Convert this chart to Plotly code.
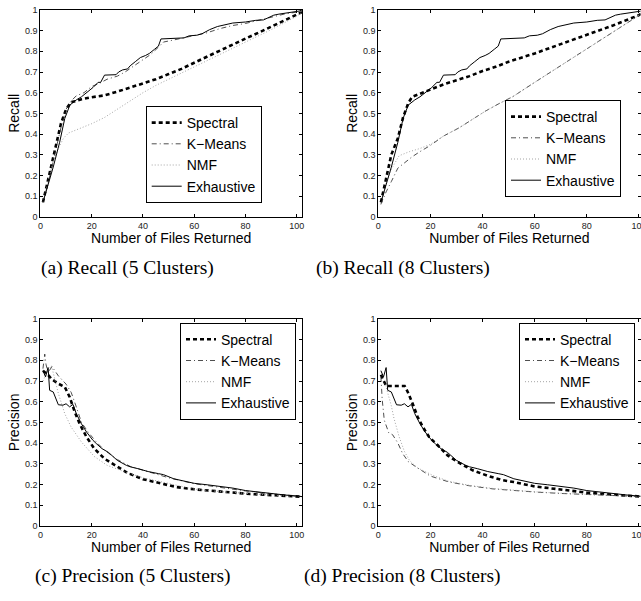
import plotly.graph_objects as go

# ---------------- data ----------------
series_names = ["Spectral", "K\u2212Means", "NMF", "Exhaustive"]
captions = ["(a) Recall (5 Clusters)", "(b) Recall (8 Clusters)",
            "(c) Precision (5 Clusters)", "(d) Precision (8 Clusters)"]
x_ticks = [0, 20, 40, 60, 80, 100]
y_ticks = [0, 0.1, 0.2, 0.3, 0.4, 0.5, 0.6, 0.7, 0.8, 0.9, 1]
y_ticklabels = ["0", "0.1", "0.2", "0.3", "0.4", "0.5", "0.6", "0.7", "0.8", "0.9", "1"]

# Recall, exhaustive (same for 5 and 8 clusters)
rec_exh_x = [1, 3, 5, 7.5, 9.5, 11.5, 14, 16, 18, 20.5, 22.5, 23.5, 25, 29.5, 30.5, 32, 34, 35, 37, 39, 41,
             42.5, 44.5, 46, 47, 52, 56, 58, 61, 63, 66, 69, 72, 75, 80, 84, 87, 89, 91, 93, 96, 99, 101, 102]
rec_exh_y = [0.07, 0.15, 0.24, 0.36, 0.475, 0.54, 0.565, 0.58, 0.60, 0.625, 0.65, 0.65, 0.685, 0.687, 0.70,
             0.71, 0.715, 0.73, 0.75, 0.77, 0.78, 0.79, 0.81, 0.825, 0.86, 0.862, 0.865, 0.875, 0.878, 0.885,
             0.905, 0.92, 0.93, 0.937, 0.942, 0.95, 0.952, 0.965, 0.975, 0.98, 0.985, 0.99, 0.995, 1.0]

# Recall, 5 clusters
rec5_spec_x = [1, 3, 5, 8, 10, 12, 14, 16, 20, 25, 30, 35, 40, 45, 50, 55, 60, 65, 70, 75, 80, 85, 90, 95, 100, 102]
rec5_spec_y = [0.07, 0.18, 0.30, 0.45, 0.52, 0.555, 0.56, 0.568, 0.578, 0.587, 0.605, 0.625, 0.645, 0.665, 0.69,
               0.715, 0.745, 0.775, 0.805, 0.835, 0.862, 0.89, 0.918, 0.948, 0.978, 0.99]
rec5_km_x = [1, 3, 5, 8, 10, 12, 14, 17, 20, 23, 26, 30, 33, 36, 40, 43, 46, 48, 52, 56, 60, 65, 70, 75, 80, 85,
             90, 95, 100, 102]
rec5_km_y = [0.07, 0.16, 0.27, 0.43, 0.52, 0.56, 0.585, 0.60, 0.63, 0.645, 0.665, 0.68, 0.70, 0.725, 0.76, 0.785,
             0.82, 0.845, 0.855, 0.865, 0.875, 0.89, 0.91, 0.925, 0.935, 0.95, 0.965, 0.98, 0.99, 1.0]
rec5_nmf_x = [1, 3, 5, 7, 9, 11, 15, 20, 25, 30, 35, 40, 45, 50, 55, 60, 70, 80, 90, 100, 102]
rec5_nmf_y = [0.07, 0.17, 0.27, 0.33, 0.38, 0.405, 0.425, 0.45, 0.48, 0.52, 0.56, 0.60, 0.635, 0.665, 0.695,
              0.725, 0.785, 0.845, 0.905, 0.97, 0.99]

# Recall, 8 clusters
rec8_spec_x = [1, 2.5, 5, 7.5, 9.5, 11.5, 13, 15, 18, 20, 25, 30, 35, 40, 45, 50, 55, 60, 70, 80, 90, 100, 102]
rec8_spec_y = [0.07, 0.16, 0.30, 0.38, 0.48, 0.55, 0.58, 0.59, 0.605, 0.615, 0.64, 0.66, 0.68, 0.705, 0.725,
               0.75, 0.77, 0.79, 0.835, 0.88, 0.925, 0.975, 0.99]
rec8_km_x = [1, 3, 5, 7.5, 10, 13, 16, 20, 25, 31, 36, 41, 46, 51.5, 60, 70, 80, 90, 100, 102]
rec8_km_y = [0.06, 0.12, 0.17, 0.235, 0.26, 0.29, 0.315, 0.345, 0.39, 0.43, 0.47, 0.51, 0.545, 0.58, 0.65, 0.73,
             0.81, 0.89, 0.97, 0.99]
rec8_nmf_x = [1, 3, 5, 8, 12, 16, 20, 25, 31, 36, 41, 46, 51.5, 60, 70, 80, 90, 100, 102]
rec8_nmf_y = [0.06, 0.16, 0.23, 0.295, 0.315, 0.33, 0.35, 0.39, 0.43, 0.47, 0.51, 0.545, 0.58, 0.65, 0.73, 0.81,
              0.89, 0.97, 0.99]

# Precision, exhaustive (same for 5 and 8 clusters)
pre_exh_x = [1, 2, 3, 3.6, 5, 6, 7, 8.8, 10, 11.4, 12.7, 14, 16, 18, 20.5, 22, 24, 26.5, 28, 30, 33.5, 35, 38,
             42, 46, 48, 52, 56, 60, 65, 70, 75, 80, 85, 90, 95, 100, 102]
pre_exh_y = [0.75, 0.72, 0.765, 0.655, 0.647, 0.62, 0.585, 0.583, 0.59, 0.575, 0.587, 0.542, 0.493, 0.453, 0.413,
             0.395, 0.373, 0.355, 0.34, 0.316, 0.292, 0.285, 0.276, 0.262, 0.252, 0.247, 0.227, 0.215, 0.205,
             0.198, 0.19, 0.182, 0.17, 0.162, 0.155, 0.149, 0.143, 0.141]

# Precision, 5 clusters
pre5_spec_x = [1, 2, 3, 4.3, 7, 9.5, 11.4, 13.4, 15.3, 18, 21, 25, 29, 34, 40, 47, 53, 60, 70, 80, 90, 100, 102]
pre5_spec_y = [0.75, 0.74, 0.73, 0.71, 0.687, 0.671, 0.623, 0.55, 0.493, 0.429, 0.373, 0.324, 0.292, 0.255,
               0.225, 0.203, 0.187, 0.176, 0.165, 0.155, 0.148, 0.142, 0.14]
pre5_km_x = [1, 1.7, 2.2, 3, 4.5, 7, 10, 12, 14, 16, 18.6, 21.8, 25, 30, 35, 40, 50, 60, 70, 80, 90, 100, 102]
pre5_km_y = [0.76, 0.83, 0.78, 0.74, 0.77, 0.725, 0.685, 0.645, 0.575, 0.5, 0.453, 0.405, 0.365, 0.32, 0.287,
             0.268, 0.232, 0.203, 0.185, 0.168, 0.155, 0.143, 0.141]
pre5_nmf_x = [1, 2.5, 4.3, 7, 9.5, 12, 16, 21, 26, 33, 40, 50, 60, 70, 80, 90, 100, 102]
pre5_nmf_y = [0.70, 0.74, 0.775, 0.64, 0.542, 0.477, 0.405, 0.335, 0.292, 0.26, 0.232, 0.203, 0.177, 0.165,
              0.155, 0.148, 0.142, 0.14]

# Precision, 8 clusters
pre8_spec_x = [1, 2, 3, 10.1, 11.3, 13.2, 15.1, 17.1, 19.5, 22.8, 26.6, 30.5, 36.2, 42.5, 47.7, 52, 60, 70, 80,
               90, 100, 102]
pre8_spec_y = [0.73, 0.70, 0.676, 0.676, 0.647, 0.59, 0.526, 0.477, 0.429, 0.389, 0.34, 0.308, 0.268, 0.239,
               0.22, 0.211, 0.19, 0.175, 0.16, 0.15, 0.142, 0.14]
pre8_km_x = [1, 1.5, 2.3, 4, 5.5, 7.5, 9.3, 11.5, 15, 20, 27, 35, 44, 52, 60, 70, 80, 90, 100, 102]
pre8_km_y = [0.72, 0.61, 0.51, 0.45, 0.44, 0.40, 0.35, 0.31, 0.28, 0.24, 0.212, 0.193, 0.178, 0.17, 0.163, 0.156,
             0.15, 0.145, 0.141, 0.14]
pre8_nmf_x = [1, 2, 3, 4, 5, 6, 8, 10, 12, 15, 18, 21, 27, 35, 44, 52, 60, 70, 80, 90, 100, 102]
pre8_nmf_y = [0.70, 0.69, 0.67, 0.63, 0.58, 0.52, 0.43, 0.36, 0.315, 0.28, 0.26, 0.243, 0.215, 0.195, 0.18, 0.171,
              0.164, 0.157, 0.151, 0.146, 0.141, 0.14]

# ---------------- styling ----------------
W, H = 641, 601
styles = [
    dict(color="black", width=2.6, dash="4px,3px"),          # Spectral
    dict(color="#222222", width=0.8, dash="5px,3px,1px,3px"),  # K-Means
    dict(color="#9a9a9a", width=0.9, dash="1px,2px"),        # NMF
    dict(color="black", width=1.0, dash="solid"),            # Exhaustive
]

panels = [
    dict(data=[(rec5_spec_x, rec5_spec_y), (rec5_km_x, rec5_km_y), (rec5_nmf_x, rec5_nmf_y), (rec_exh_x, rec_exh_y)],
         px=(40.4, 302), py=(10, 216.7), xr=[0, 102], ytitle="Recall",
         legend=dict(x=145.7, y=106, xanchor="left", gap=2)),
    dict(data=[(rec8_spec_x, rec8_spec_y), (rec8_km_x, rec8_km_y), (rec8_nmf_x, rec8_nmf_y), (rec_exh_x, rec_exh_y)],
         px=(378.3, 640.5), py=(10, 216.7), xr=[0, 100.6], ytitle="Recall",
         legend=dict(x=505, y=100, xanchor="left", gap=2)),
    dict(data=[(pre5_spec_x, pre5_spec_y), (pre5_km_x, pre5_km_y), (pre5_nmf_x, pre5_nmf_y), (pre_exh_x, pre_exh_y)],
         px=(40.4, 302), py=(319, 525.7), xr=[0, 102], ytitle="Precision",
         legend=dict(x=296, y=322.7, xanchor="right", gap=0)),
    dict(data=[(pre8_spec_x, pre8_spec_y), (pre8_km_x, pre8_km_y), (pre8_nmf_x, pre8_nmf_y), (pre_exh_x, pre_exh_y)],
         px=(378.3, 640.5), py=(319, 525.7), xr=[0, 100.6], ytitle="Precision",
         legend=dict(x=635, y=322.7, xanchor="right", gap=0)),
]
caption_pos = [(127.5, 268), (402.5, 268), (132.5, 576), (402.5, 576)]

fig = go.Figure()
layout = dict(width=W, height=H, margin=dict(l=0, r=0, t=0, b=0), paper_bgcolor="white",
              plot_bgcolor="white", font=dict(family="Arial, Liberation Sans, sans-serif", color="black"),
              annotations=[])

for i, p in enumerate(panels):
    n = i + 1
    xa = "x" if n == 1 else f"x{n}"
    ya = "y" if n == 1 else f"y{n}"
    lg = "legend" if n == 1 else f"legend{n}"
    for j, (xs, ys) in enumerate(p["data"]):
        fig.add_trace(go.Scatter(x=xs, y=ys, mode="lines", name=series_names[j], line=styles[j],
                                 xaxis=xa, yaxis=ya, legend=lg, legendgroup=f"g{n}_{j}",
                                 showlegend=True, hoverinfo="skip"))
    axcommon = dict(showline=True, linecolor="black", linewidth=1, mirror="ticks", ticks="inside",
                    ticklen=3, tickcolor="black", tickwidth=1, showgrid=False, zeroline=False,
                    tickfont=dict(size=9, color="#222222"), automargin=False, ticklabeloverflow="allow")
    layout["xaxis" if n == 1 else f"xaxis{n}"] = dict(
        axcommon, domain=[p["px"][0] / W, p["px"][1] / W], range=p["xr"], anchor=ya,
        tickvals=x_ticks, ticktext=[str(t) for t in x_ticks],
        title=dict(text="Number of Files Returned", font=dict(size=14), standoff=0))
    layout["yaxis" if n == 1 else f"yaxis{n}"] = dict(
        axcommon, domain=[1 - p["py"][1] / H, 1 - p["py"][0] / H], range=[0, 1], anchor=xa,
        tickvals=y_ticks, ticktext=y_ticklabels,
        title=dict(text=p["ytitle"], font=dict(size=14), standoff=2))
    L = p["legend"]
    layout[lg] = dict(x=L["x"] / W, y=1 - L["y"] / H, xanchor=L["xanchor"], yanchor="top",
                      bordercolor="black", borderwidth=1, bgcolor="white",
                      font=dict(size=14, color="black"), tracegroupgap=L["gap"], traceorder="normal")
    cx, cy = caption_pos[i]
    layout["annotations"].append(dict(text=captions[i], x=cx / W, y=1 - cy / H, xref="paper", yref="paper",
                                      xanchor="center", yanchor="middle", showarrow=False,
                                      font=dict(family="Liberation Serif, Times New Roman, serif", size=19.5,
                                                color="black")))

fig.update_layout(**layout)
fig.write_html("out.html", config={"displayModeBar": False, "staticPlot": True},
               post_script="document.body.style.margin='0';document.body.style.overflow='hidden';")
